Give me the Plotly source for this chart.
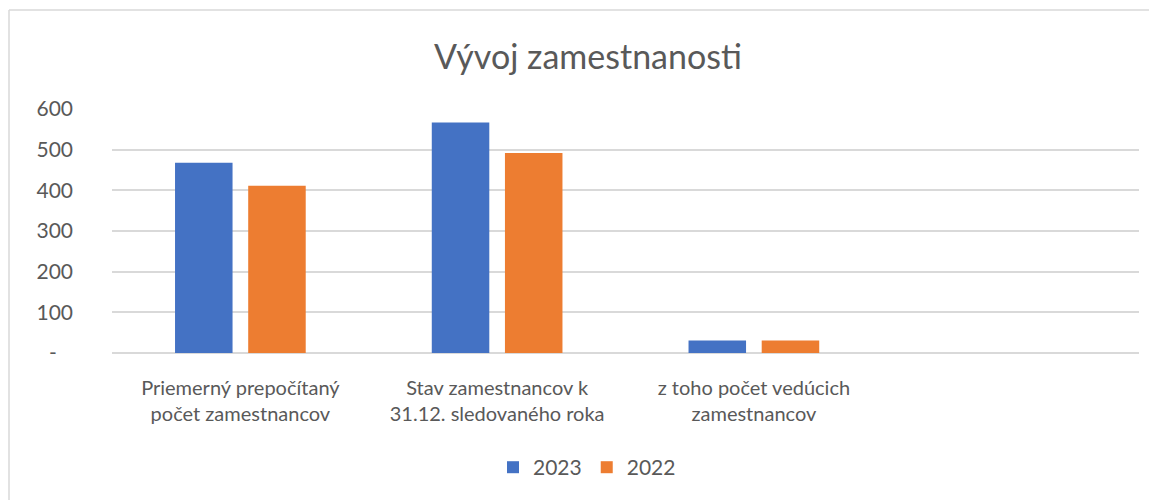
import plotly.graph_objects as go

categories = ["Priemerný prepočítaný<br>počet zamestnancov",
              "Stav zamestnancov k<br>31.12. sledovaného roka",
              "z toho počet vedúcich<br>zamestnancov"]
series_names = ["2023", "2022"]
values_2023 = [468, 567, 31]
values_2022 = [411, 492, 31]
colors = ["#4472C4", "#ED7D31"]
tick_vals = [0, 100, 200, 300, 400, 500, 600]
tick_text = ["-\u00a0\u00a0\u00a0", "100", "200", "300", "400", "500", "600"]

FONT = "Lato"
TXT = "#595959"
GRID = "#D9D9D9"

OFF = 8  # browser body margin
W, H = 1157 - OFF, 500 - OFF
# plot area in page coords: x 112..1139, y 109..353.3
L = 112 - OFF
T = 109 - OFF
R = W - (1139 - OFF)
B = H - (353.3 - OFF)
pw = W - L - R
ph = H - T - B

def px_x(p):  # page px -> paper x
    return (p - OFF - L) / pw

def px_y(p):  # page px -> paper y
    return (H - B - (p - OFF)) / ph

fig = go.Figure()
for name, vals, col in zip(series_names, [values_2023, values_2022], colors):
    fig.add_trace(go.Bar(x=categories, y=vals, name=name, marker=dict(color=col, line=dict(width=0))))

# border lines (top and left visible)
bx = px_x(9)
by = px_y(10)
fig.add_shape(type="line", xref="paper", yref="paper", x0=bx, x1=1.2, y0=by, y1=by,
              line=dict(color=GRID, width=1.5))
fig.add_shape(type="line", xref="paper", yref="paper", x0=bx, x1=bx, y0=by, y1=-1.0,
              line=dict(color=GRID, width=1.5))

fig.update_layout(
    width=W, height=H,
    margin=dict(l=L, r=R, t=T, b=B, pad=0),
    paper_bgcolor="white", plot_bgcolor="white",
    font=dict(family=FONT, color=TXT, size=20),
    title=dict(text="Vývoj zamestnanosti", x=(588 - OFF) / W, xanchor="center",
               y=1 - (57 - OFF) / H, yanchor="middle", font=dict(size=34, color=TXT, family=FONT)),
    barmode="group", bargap=0.43, bargroupgap=0.214,
    showlegend=True,
    legend=dict(orientation="h", x=px_x(587), xanchor="center",
                y=px_y(468), yanchor="middle",
                font=dict(size=21, color=TXT, family=FONT), itemwidth=30,
                bgcolor="rgba(0,0,0,0)"),
    xaxis=dict(type="category", range=[-0.5, 3.5], showgrid=False, showline=False,
               zeroline=False, ticks="", tickfont=dict(size=20, color=TXT, family=FONT),
               ticklabelstandoff=21, fixedrange=True),
    yaxis=dict(range=[0, 600], tickvals=tick_vals, ticktext=tick_text, showgrid=True,
               gridcolor=GRID, gridwidth=1.5, zeroline=True, zerolinecolor=GRID,
               zerolinewidth=1.5, showline=False, ticks="",
               tickfont=dict(size=21, color=TXT, family=FONT), ticklabelstandoff=38),
)

fig.write_html("out.html")
